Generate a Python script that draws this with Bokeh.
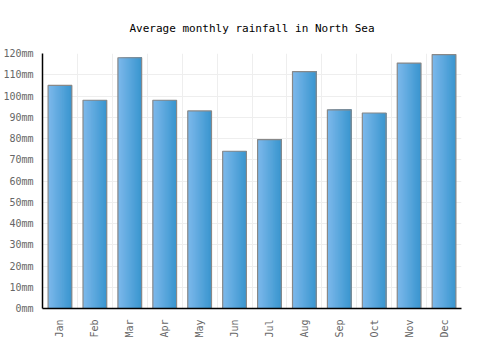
import numpy as np
from bokeh.plotting import figure
from bokeh.models import Range1d, FixedTicker
from bokeh.embed import file_html
from bokeh.resources import INLINE

months = ["Jan", "Feb", "Mar", "Apr", "May", "Jun", "Jul", "Aug", "Sep", "Oct", "Nov", "Dec"]
rainfall = [105, 98, 118, 98, 93, 74, 79.5, 111.5, 93.5, 92, 115.5, 119.5]
y_ticks = list(range(0, 121, 10))

FONT = "DejaVu Sans Mono"

p = figure(width=500, height=350, output_backend="svg", toolbar_location=None,
           x_range=Range1d(0, 12), y_range=Range1d(0, 120),
           min_border_left=41, min_border_right=39, min_border_top=53, min_border_bottom=42)
p.outline_line_color = None
p.background_fill_color = "white"

p.title.text = "Average monthly rainfall in North Sea"
p.title.align = "center"
p.title.text_font = FONT
p.title.text_font_size = "11px"
p.title.text_font_style = "normal"
p.title.text_color = "#000000"
p.title.standoff = 37

xc = np.arange(len(months)) + 0.5
bar_w = 0.68
N = 24
cl = np.array([0x7c, 0xb8, 0xeb])
cr = np.array([0x3a, 0x96, 0xcf])
sw = bar_w / N
for i in range(N):
    t = i / (N - 1)
    c = cl + (cr - cl) * t
    col = "#%02x%02x%02x" % tuple(int(round(v)) for v in c)
    p.quad(left=xc - bar_w / 2 + sw * i, right=xc + bar_w / 2, top=rainfall, bottom=0,
           fill_color=col, line_color=None)

p.vbar(x=xc, top=rainfall, width=bar_w, bottom=0, fill_alpha=0,
       line_color="#888888", line_width=1.2)

p.xaxis.ticker = FixedTicker(ticks=list(xc))
p.xaxis.major_label_overrides = {float(x): m for x, m in zip(xc, months)}
p.xaxis.major_label_orientation = np.pi / 2
p.yaxis.ticker = FixedTicker(ticks=y_ticks)
p.yaxis.major_label_overrides = {v: f"{v}mm" for v in y_ticks}
for ax in (p.xaxis, p.yaxis):
    ax.major_tick_line_color = None
    ax.minor_tick_line_color = None
    ax.axis_line_color = "#000000"
    ax.axis_line_width = 1.5
    ax.major_label_text_font = FONT
    ax.major_label_text_font_size = "10px"
    ax.major_label_text_color = "#666666"
p.yaxis.major_label_standoff = 3
p.xaxis.major_label_standoff = 5

p.xgrid.ticker = FixedTicker(ticks=list(range(0, 13)))
p.xgrid.grid_line_color = "#eeeeee"
p.ygrid.grid_line_color = "#eeeeee"
p.xgrid.level = "underlay"
p.ygrid.level = "underlay"

open("out.html", "w").write(file_html(p, INLINE))
